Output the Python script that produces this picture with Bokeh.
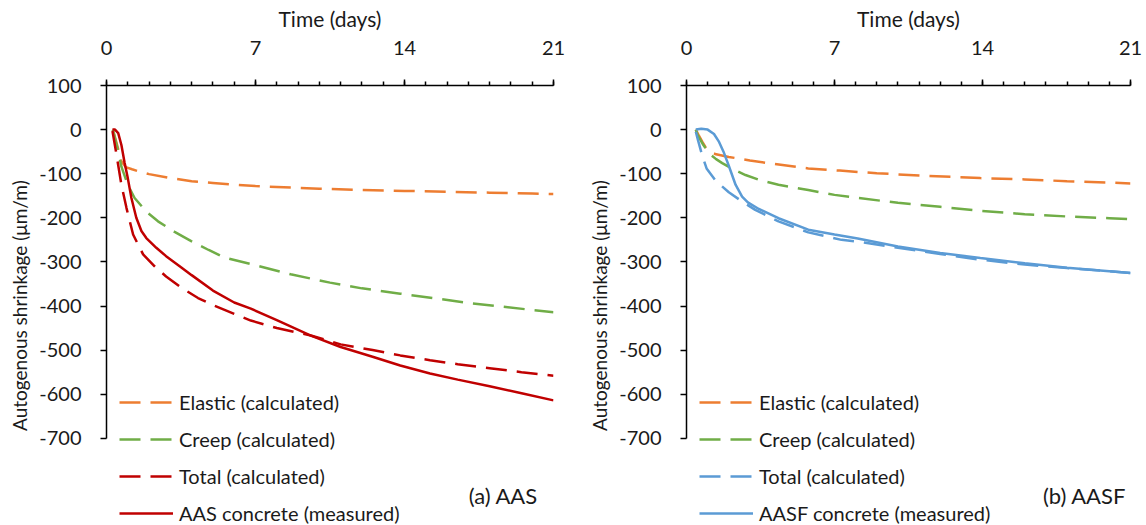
from bokeh.plotting import figure
from bokeh.layouts import row
from bokeh.models import Range1d, FixedTicker, Label, Title, CustomJSTickFormatter
from bokeh.embed import file_html
from bokeh.resources import INLINE

# ---------------- data ----------------
x_ticks = [0, 7, 14, 21]
x_minor = list(range(0, 22))
y_ticks = [100, 0, -100, -200, -300, -400, -500, -600, -700]

# (a) AAS
aas_el_t = [0.3, 0.5, 0.7, 0.9, 1.2, 1.6, 2, 3, 4, 5, 6, 7, 8, 10, 12, 14, 16, 18, 20, 21]
aas_el_v = [0, -35, -72, -85, -90, -96, -101, -110, -117, -121, -125, -128, -130, -134, -137, -139, -141, -143, -145, -146]

aas_cr_t = [0.3, 0.5, 0.7, 1.0, 1.32, 1.87, 2.42, 3.2, 3.98, 4.8, 5.53, 6.78, 8.65, 10.5, 12, 13.8, 15.5, 17, 18.5, 20, 21]
aas_cr_v = [0, -40, -84, -125, -155, -186, -208, -232, -253, -273, -290, -305, -328, -347, -360, -372, -383, -393, -401, -409, -414]

aas_tot_t = [0.28, 0.47, 0.7, 0.94, 1.25, 1.72, 2.26, 2.8, 3.5, 4.3, 5, 6, 6.78, 8, 9.6, 11, 12.5, 13.8, 15.2, 16.5, 18, 19.5, 21]
aas_tot_v = [-3, -57, -125, -178, -238, -283, -310, -333, -358, -382, -398, -418, -433, -450, -467, -487, -500, -512, -523, -532, -541, -550, -558]

aas_meas_t = [0.28, 0.4, 0.55, 0.7, 0.85, 1.0, 1.17, 1.4, 1.64, 1.87, 2.34, 2.8, 3.5, 4, 5, 6, 6.78, 8, 9.6, 11, 12.5, 13.8, 15.2, 16.5, 18, 19.5, 21]
aas_meas_v = [0, 0, -8, -35, -75, -110, -155, -200, -230, -246, -268, -287, -312, -330, -365, -392, -406, -432, -467, -493, -515, -535, -553, -567, -582, -598, -614]

# (b) AASF
aasf_el_t = [0.44, 0.6, 0.75, 0.9, 1.07, 1.4, 2.0, 3.0, 4.0, 5.76, 7.25, 9, 11, 13.9, 16, 18, 20, 21]
aasf_el_v = [0, -15, -28, -40, -50, -56, -62, -70, -77, -88, -93, -99, -104, -110, -113, -117, -120, -122]

aasf_cr_t = [0.44, 0.52, 0.8, 1.07, 1.4, 1.69, 2.2, 2.79, 3.5, 4.35, 5.76, 7.0, 8.1, 10, 12, 13.9, 16, 18, 20, 21]
aasf_cr_v = [0, -12, -35, -54, -67, -76, -90, -103, -115, -125, -137, -148, -155, -166, -175, -184, -192, -197, -201, -203]

aasf_tot_t = [0.44, 0.55, 0.75, 0.95, 1.38, 2.0, 2.63, 3.25, 4.35, 5.76, 7.33, 8.1, 10, 12, 13.9, 16, 18, 20, 21]
aasf_tot_v = [-5, -25, -60, -88, -116, -142, -163, -182, -208, -233, -250, -254, -268, -282, -295, -306, -314, -321, -325]

aasf_meas_t = [0.44, 0.7, 1.0, 1.3, 1.54, 1.75, 2.0, 2.32, 2.63, 2.9, 3.42, 4.35, 5.76, 7.0, 8.1, 10, 12, 13.9, 16, 18, 20, 21]
aasf_meas_v = [0, 2, 0, -10, -28, -50, -82, -125, -152, -165, -180, -201, -227, -238, -247, -265, -280, -291, -303, -313, -321, -325]

leg_el = "Elastic (calculated)"
leg_cr = "Creep (calculated)"
leg_tot = "Total (calculated)"
leg_meas_a = "AAS concrete (measured)"
leg_meas_b = "AASF concrete (measured)"
y_title = "Autogenous shrinkage (\u03bcm/m)"
x_title = "Time (days)"

# ---------------- style ----------------
FONT = "Lato"
TXT = "#1a1a1a"
ORANGE = "#ED7D31"
GREEN = "#70AD47"
RED = "#C00000"
BLUE = "#5B9BD5"
DASH = "21 10"

H = 525
FT = 85
PXU = 0.441
Y_TOP = 100
Y_BOT = Y_TOP - (H - FT) / PXU
TAG_Y = 100 - (495 - FT) / PXU


def make_panel(width, left, right, curves, tag, tag_px):
    p = figure(width=width, height=H, x_range=Range1d(0, 21), y_range=Range1d(Y_BOT, Y_TOP),
               x_axis_location="above", output_backend="svg", toolbar_location=None,
               min_border_left=left, min_border_right=right, min_border_top=FT,
               min_border_bottom=0)
    ppd = (width - left - right) / 21.0
    p.grid.visible = False
    p.outline_line_color = None
    p.background_fill_color = "white"

    for t, v, col, dash, lab in curves:
        p.line(t, v, line_color=col, line_width=2.5, line_dash=dash, legend_label=lab)

    xa = p.xaxis[0]
    xa.ticker = FixedTicker(ticks=x_ticks, minor_ticks=x_minor)
    xa.bounds = (0, 21)
    xa.axis_label = x_title
    ya = p.yaxis[0]
    ya.ticker = FixedTicker(ticks=y_ticks)
    ya.bounds = (-700, 100)
    ya.formatter = CustomJSTickFormatter(code="return tick.toFixed(0);")
    for ax in (xa, ya):
        ax.axis_line_color = "black"
        ax.axis_line_width = 1.5
        ax.major_tick_line_color = "black"
        ax.major_tick_line_width = 1.5
        ax.minor_tick_line_color = "black"
        ax.minor_tick_line_width = 1.5
        ax.major_tick_in = 0
        ax.major_tick_out = 6
        ax.minor_tick_in = 0
        ax.minor_tick_out = 4
        ax.major_label_text_font = FONT
        ax.major_label_text_font_size = "20px"
        ax.major_label_text_color = TXT
        ax.axis_label_text_font = FONT
        ax.axis_label_text_font_size = "21px"
        ax.axis_label_text_font_style = "normal"
        ax.axis_label_text_color = TXT
    ya.minor_tick_line_color = None
    xa.major_label_standoff = 25
    xa.axis_label_standoff = 7
    ya.major_label_standoff = 19

    p.add_layout(Title(text=y_title, align="center", offset=70, standoff=11,
                       text_font=FONT, text_font_size="19px", text_font_style="normal",
                       text_color=TXT), "left")
    p.add_layout(Label(x=tag_px / ppd, y=TAG_Y, text=tag, text_align="left",
                       text_baseline="middle", text_font=FONT, text_font_size="22px",
                       text_color=TXT))

    lg = p.legend[0]
    lg.location = (13, 0)
    lg.padding = 0
    lg.margin = 0
    lg.spacing = 13
    lg.glyph_width = 54
    lg.glyph_height = 20
    lg.label_standoff = 6
    lg.label_text_font = FONT
    lg.label_text_font_size = "20px"
    lg.label_text_color = TXT
    lg.background_fill_alpha = 0
    lg.border_line_alpha = 0
    return p


pa = make_panel(580, 105, 27, [
    (aas_el_t, aas_el_v, ORANGE, DASH, leg_el),
    (aas_cr_t, aas_cr_v, GREEN, DASH, leg_cr),
    (aas_tot_t, aas_tot_v, RED, DASH, leg_tot),
    (aas_meas_t, aas_meas_v, RED, "solid", leg_meas_a),
], "(a) AAS", 363)

pb = make_panel(566, 104, 16, [
    (aasf_el_t, aasf_el_v, ORANGE, DASH, leg_el),
    (aasf_cr_t, aasf_cr_v, GREEN, DASH, leg_cr),
    (aasf_tot_t, aasf_tot_v, BLUE, DASH, leg_tot),
    (aasf_meas_t, aasf_meas_v, BLUE, "solid", leg_meas_b),
], "(b) AASF", 358)

layout = row(pa, pb)
open("out.html", "w").write(file_html(layout, INLINE))
